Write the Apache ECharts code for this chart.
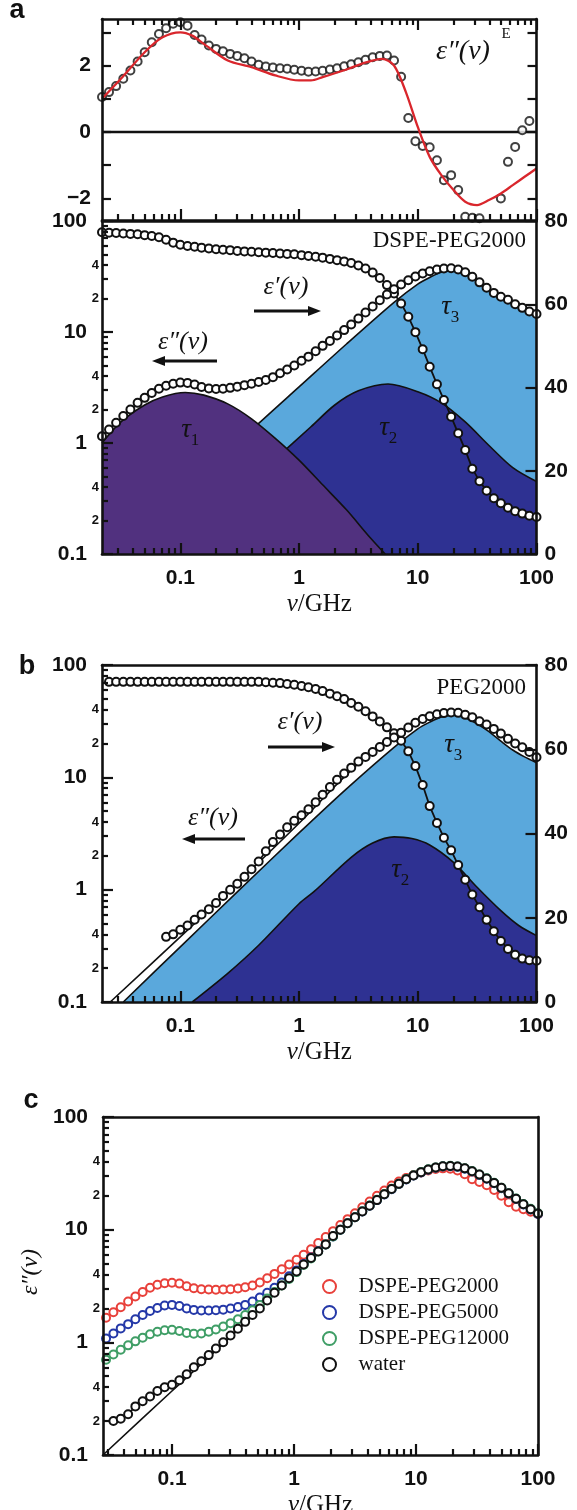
<!DOCTYPE html>
<html><head><meta charset="utf-8">
<script src="https://cdn.jsdelivr.net/npm/echarts@6/dist/echarts.min.js"></script>
<style>html,body{margin:0;padding:0;background:#fff}#c{width:577px;height:1510px}</style>
</head><body><div id="c"></div>
<script>
// ---------- data (frequencies in GHz, permittivity values) ----------
const freq = [0.0219,0.0251,0.0288,0.0331,0.0380,0.0437,0.0501,0.0575,0.0661,0.0759,0.0871,0.100,0.115,0.132,0.151,0.174,0.200,0.229,0.263,0.302,0.347,0.398,0.457,0.525,0.603,0.692,0.794,0.912,1.05,1.20,1.38,1.58,1.82,2.09,2.40,2.75,3.16,3.63,4.17,4.79,5.50,6.31,7.24,8.32,9.55,11.0,12.6,14.5,16.6,19.1,21.9,25.1,28.8,33.1,38.0,43.7,50.1,57.5,66.1,75.9,87.1,100];

// panel a, top: excess loss eps''(nu)^E
const resid = [1.05,1.20,1.38,1.60,1.85,2.12,2.40,2.70,2.95,3.12,3.26,3.30,3.20,2.92,2.78,2.60,2.50,2.43,2.35,2.29,2.22,2.12,2.02,1.97,1.94,1.92,1.90,1.87,1.84,1.81,1.82,1.84,1.88,1.92,1.98,2.04,2.10,2.17,2.25,2.29,2.30,2.15,1.66,0.42,-0.28,-0.42,-0.46,-0.85,-1.45,-1.30,-1.75,-2.55,-2.58,-2.60,null,null,-2.00,-0.90,-0.45,0.05,0.33,null];
const resFitNu = [0.0219,0.0316,0.0501,0.0708,0.100,0.126,0.158,0.251,0.398,0.631,1.00,1.26,1.58,2.51,3.55,5.01,6.31,7.94,10.0,12.6,15.8,20.0,25.1,31.6,39.8,50.1,63.1,79.4,100];
const resFit = [1.0,1.6,2.4,2.85,3.0,2.9,2.65,2.15,1.95,1.7,1.55,1.55,1.65,1.88,2.08,2.2,2.0,1.2,0.15,-0.75,-1.3,-1.75,-2.1,-2.2,-2.05,-1.85,-1.6,-1.35,-1.1];

// panel a, bottom: DSPE-PEG2000
const epsLossA = [1.15,1.32,1.52,1.75,2.0,2.3,2.55,2.82,3.08,3.28,3.42,3.5,3.48,3.36,3.2,3.1,3.06,3.08,3.14,3.22,3.32,3.42,3.55,3.7,3.92,4.25,4.6,5.0,5.5,6.0,6.7,7.5,8.3,9.3,10.4,11.7,13.2,15.0,17.0,19.3,21.8,24.3,26.8,29.3,31.6,33.6,35.3,36.5,37.3,37.5,36.5,34.5,31.5,28.0,25.0,22.5,20.8,19.5,17.8,16.5,15.3,14.5];
const epsRealA = [77.3,77.2,77.1,77.0,76.9,76.8,76.6,76.4,76.1,75.5,74.8,74.3,74.0,73.8,73.6,73.4,73.2,73.1,73.0,72.8,72.7,72.6,72.5,72.4,72.3,72.2,72.1,72.0,71.8,71.6,71.4,71.2,70.9,70.6,70.3,69.9,69.3,68.6,67.6,66.3,64.6,62.6,60.2,57.0,53.3,49.2,45.0,40.8,37.0,33.0,29.0,25.0,20.5,17.5,15.2,13.4,12.2,11.1,10.3,9.7,9.2,8.9];
const tau1NuA = [0.0219,0.0316,0.0501,0.0708,0.110,0.158,0.251,0.398,0.631,1.00,1.58,2.51,3.98,6.31];
const tau1A = [1.0,1.55,2.2,2.6,2.85,2.7,2.25,1.65,1.1,0.7,0.42,0.25,0.14,0.082];
const tau2NuA = [0.100,0.251,0.631,1.26,2.00,3.16,5.62,10.0,15.8,25.1,39.8,63.1,100];
const tau2A = [0.12,0.3,0.72,1.4,2.2,2.95,3.4,2.9,2.3,1.55,0.95,0.6,0.45];
const tau3NuA = [0.100,0.457,1.00,2.51,6.31,10.0,12.6,15.8,20.0,25.1,31.6,39.8,50.1,63.1,79.4,100];
const tau3A = [0.33,1.5,3.2,7.8,18.5,27,31,34.5,35.5,33.5,29,24,20.5,18,16.2,15.2];

// panel b: PEG2000
const epsLossB = [null,null,null,null,null,null,null,null,null,0.38,0.40,0.44,0.48,0.54,0.60,0.67,0.76,0.88,1.00,1.13,1.30,1.52,1.78,2.20,2.65,3.10,3.60,4.10,4.60,5.20,6.00,7.00,8.20,9.50,10.8,12.2,13.8,15.2,16.8,18.6,20.6,22.6,25.0,27.8,30.6,33.0,35.0,36.4,37.3,37.8,37.5,36.0,34.2,31.5,29.5,27.0,24.5,22.0,20.0,18.5,16.8,15.1];
const epsRealB = [null,76.0,76.0,76.0,76.0,76.0,76.0,76.0,76.0,76.0,76.0,76.0,76.0,76.0,76.0,76.0,76.0,76.0,76.0,76.0,76.0,76.0,76.0,75.9,75.8,75.7,75.5,75.3,75.0,74.7,74.3,73.8,73.2,72.6,71.9,71.0,70.1,69.0,67.8,66.6,65.2,63.8,62.0,59.5,56.0,51.5,46.5,42.5,39.0,36.0,32.5,29.0,25.5,22.5,19.5,16.8,14.5,12.6,11.2,10.3,9.9,9.8];
const fitNuB = [0.0257,0.100,0.316,1.00,2.00,3.16];
const fitB = [0.1,0.38,1.2,3.9,8.3,13.3];
const tau2NuB = [0.126,0.251,0.457,1.00,1.35,2.75,4.17,6.31,8.91,12.6,20.0,31.6,50.1,70.8,100];
const tau2B = [0.1,0.18,0.32,0.75,0.97,1.94,2.6,2.95,2.85,2.5,1.75,1.05,0.65,0.48,0.39];
const tau3NuB = [0.0331,0.100,0.316,1.00,2.51,6.31,10.0,12.6,15.8,20.0,25.1,31.6,39.8,50.1,63.1,79.4,100];
const tau3B = [0.1,0.31,1.0,3.2,7.9,18.5,27,31,34.5,35.8,34,30,25.5,21,17.5,15.2,13.5];

// panel c: eps''(nu) of the four samples
const namesC = ['DSPE-PEG2000','DSPE-PEG5000','DSPE-PEG12000','water'];
const lossPEG2000 = [null,null,1.65,1.85,2.05,2.30,2.55,2.80,3.05,3.25,3.35,3.38,3.32,3.15,3.02,2.96,2.94,2.93,2.94,2.96,3.00,3.08,3.20,3.40,3.70,4.05,4.45,4.90,5.40,6.00,6.70,7.60,8.60,9.70,11.0,12.4,14.0,15.8,17.8,20.0,22.3,24.6,26.8,28.8,30.6,32.2,33.5,34.5,35.0,34.8,33.5,31.0,28.0,26.5,24.8,22.5,20.0,17.5,16.0,15.2,14.4,13.8];
const lossPEG5000 = [null,null,1.08,1.20,1.33,1.45,1.60,1.75,1.90,2.02,2.12,2.15,2.10,2.00,1.94,1.92,1.92,1.93,1.95,2.00,2.06,2.15,2.30,2.50,2.75,3.05,3.40,3.85,4.35,4.95,5.65,6.45,7.40,8.70,10.0,11.4,12.9,14.5,16.3,18.3,20.5,22.9,25.4,27.9,30.2,32.2,34.0,35.4,36.3,36.6,36.1,34.8,32.8,30.6,28.3,25.8,23.3,20.9,18.7,16.7,15.1,13.8];
const lossPEG12000 = [null,null,0.70,0.78,0.86,0.94,1.02,1.10,1.18,1.24,1.28,1.29,1.26,1.21,1.19,1.20,1.24,1.30,1.38,1.48,1.60,1.75,1.93,2.15,2.45,2.80,3.20,3.65,4.20,4.85,5.55,6.40,7.40,8.70,10.0,11.4,12.9,14.6,16.4,18.4,20.7,23.1,25.6,28.1,30.4,32.5,34.3,35.7,36.6,36.9,36.4,35.1,33.1,30.9,28.6,26.1,23.6,21.1,18.9,16.9,15.3,14.0];
const lossWater = [null,null,null,0.20,0.21,0.23,0.27,0.30,0.33,0.37,0.40,0.42,0.46,0.52,0.60,0.68,0.77,0.88,1.00,1.15,1.32,1.52,1.75,2.00,2.35,2.75,3.20,3.70,4.25,4.90,5.60,6.40,7.40,8.80,10.0,11.4,12.9,14.5,16.3,18.3,20.6,23.0,25.5,28.0,30.3,32.4,34.2,35.6,36.5,36.8,36.3,35.0,33.0,30.8,28.5,26.0,23.5,21.0,18.8,16.8,15.2,13.9];
const waterFitNu = [0.0272,0.100,0.316,1.00,1.58];
const waterFit = [0.1,0.37,1.17,3.9,6.1];

// ---------- axis ranges and tick values ----------
const nuMinAB = 0.0219, nuMinC = 0.0272, nuMax = 100;
const epsMin = 0.1, epsMax = 100;
const resMin = -2.65, resMax = 3.4;
const decades = [0.1, 1, 10, 100];
const nuMinor = [0.03,0.04,0.05,0.06,0.07,0.08,0.09,0.2,0.3,0.4,0.5,0.6,0.7,0.8,0.9,2,3,4,5,6,7,8,9,20,30,40,50,60,70,80,90];
const epsMinor = [0.2,0.3,0.4,0.5,0.6,0.7,0.8,0.9,2,3,4,5,6,7,8,9,20,30,40,50,60,70,80,90];
const epsMinorLabels = [0.2,0.4,2,4,20,40];
const resTicks = [-2,-1,0,1,2,3];
const resLabels = [-2,0,2];
const epsRealTicks = [0,20,40,60,80];

// ---------- helpers ----------
const SANS = "'Liberation Sans', Arial, Helvetica, sans-serif";
const SERIF = "'Liberation Serif', 'Times New Roman', serif";
const INK = '#111111';
const C1 = '#51317f', C2 = '#2e3192', C3 = '#5aa8dc';
const L = v => Math.log10(v);
const ll = (xs, ys) => xs.map((x, i) => [L(x), ys[i] == null ? null : L(ys[i])]).filter(p => p[1] !== null);
const lin = (xs, ys) => xs.map((x, i) => [L(x), ys[i]]).filter(p => p[1] !== null && p[1] !== undefined);
const fmtLog = v => { const n = Math.pow(10, v); return n < 1 ? n.toFixed(1) : String(Math.round(n)); };
const fmtMinor = v => String(Math.round(Math.pow(10, v - Math.floor(v + 1e-9))));

function mk(o) {
  const a = {
    type: 'value', gridIndex: o.g, position: o.pos, min: o.min, max: o.max, z: 9,
    axisLine: { show: !!o.line, onZero: false, lineStyle: { color: INK, width: 2.6 } },
    axisTick: o.ticks ? { show: true, inside: true, length: o.len, customValues: o.ticks, lineStyle: { color: INK, width: 2.2 } } : { show: false },
    axisLabel: o.labels ? { show: true, customValues: o.labels, formatter: o.fmt, margin: o.margin, color: INK, fontFamily: SANS, fontWeight: 'bold', fontSize: o.size } : { show: false },
    splitLine: { show: false }, splitArea: { show: false }, minorTick: { show: false }, minorSplitLine: { show: false }
  };
  if (o.extra) Object.assign(a, o.extra);
  return a;
}
const nuName = {
  name: '{i|ν}/GHz', nameLocation: 'middle', nameGap: 38,
  nameTextStyle: { fontFamily: SERIF, fontSize: 25, color: INK, rich: { i: { fontFamily: SERIF, fontStyle: 'italic', fontSize: 25, color: INK } } }
};
function xLog(g, nuMin, withLabels, topTicks) {
  const mn = L(nuMin), mx = L(nuMax);
  const list = [
    mk({ g, pos: 'bottom', min: mn, max: mx, line: true, ticks: decades.map(L), len: 11,
         labels: withLabels ? decades.map(L) : null, fmt: fmtLog, margin: 14, size: 21, extra: withLabels ? nuName : null }),
    mk({ g, pos: 'bottom', min: mn, max: mx, ticks: nuMinor.map(L), len: 6 }),
    mk({ g, pos: 'top', min: mn, max: mx, line: true, ticks: topTicks ? decades.map(L) : null, len: 11 })
  ];
  if (topTicks) list.push(mk({ g, pos: 'top', min: mn, max: mx, ticks: nuMinor.map(L), len: 6 }));
  return list;
}
const yLog = g => [
  mk({ g, pos: 'left', min: L(epsMin), max: L(epsMax), line: true, ticks: decades.map(L), len: 11, labels: decades.map(L), fmt: fmtLog, margin: 15, size: 21 }),
  mk({ g, pos: 'left', min: L(epsMin), max: L(epsMax), ticks: epsMinor.map(L), len: 6, labels: epsMinorLabels.map(L), fmt: fmtMinor, margin: 3, size: 13 })
];
const yReal = g => mk({ g, pos: 'right', min: 0, max: 80, line: true, ticks: epsRealTicks, len: 11, labels: epsRealTicks, fmt: v => String(v), margin: 8, size: 21 });

// x axes: 0-3 residual, 4-6 a, 7-9 b, 10-12 c
const xAxis = [].concat(xLog(0, nuMinAB, false, true), xLog(1, nuMinAB, true, false), xLog(2, nuMinAB, true, false), xLog(3, nuMinC, true, false));
// y axes: 0-1 residual, 2-4 a (log, minor, eps'), 5-7 b, 8-10 c
const yAxis = [
  mk({ g: 0, pos: 'left', min: resMin, max: resMax, line: true, ticks: resTicks, len: 9, labels: resLabels, fmt: v => v < 0 ? '\u2212' + (-v) : String(v), margin: 11, size: 21 }),
  mk({ g: 0, pos: 'right', min: resMin, max: resMax, line: true, ticks: resTicks, len: 9 })
].concat(yLog(1), [yReal(1)], yLog(2), [yReal(2)], yLog(3), [mk({ g: 3, pos: 'right', min: L(epsMin), max: L(epsMax), line: true })]);

// ---------- series ----------
const series = [];
const area = (xi, yi, data, color, z) => ({ type: 'line', xAxisIndex: xi, yAxisIndex: yi, data, smooth: 0.3, symbol: 'none', silent: true, z,
  lineStyle: { color: INK, width: 1.6 }, areaStyle: { color, opacity: 1, origin: 'start' } });
const dots = (xi, yi, data, color, lineColor, z) => ({ type: 'line', xAxisIndex: xi, yAxisIndex: yi, data, symbol: 'emptyCircle', symbolSize: 8, showSymbol: true, silent: true, z,
  lineStyle: { color: lineColor || color, width: 1.8 }, itemStyle: { color, borderColor: color, borderWidth: 1.7 } });
const fitLine = (xi, yi, data, color, w, z) => ({ type: 'line', xAxisIndex: xi, yAxisIndex: yi, data, symbol: 'none', smooth: 0.3, silent: true, z, lineStyle: { color, width: w } });

// residual panel
series.push({ type: 'scatter', xAxisIndex: 0, yAxisIndex: 0, data: lin(freq, resid), symbol: 'emptyCircle', symbolSize: 8, silent: true, z: 6,
  itemStyle: { color: INK, borderColor: INK, borderWidth: 1.7 },
  markLine: { silent: true, symbol: ['none', 'none'], label: { show: false }, lineStyle: { color: INK, width: 2.4, type: 'solid' }, data: [{ yAxis: 0 }] } });
series.push(fitLine(0, 0, lin(resFitNu, resFit), '#d9262c', 2.3, 7));
// panel a
series.push(area(4, 2, ll(tau3NuA, tau3A), C3, 2));
series.push(area(4, 2, ll(tau2NuA, tau2A), C2, 3));
series.push(area(4, 2, ll(tau1NuA, tau1A), C1, 4));
series.push(dots(4, 4, lin(freq, epsRealA), INK, INK, 6));
series.push(dots(4, 2, ll(freq, epsLossA), INK, INK, 6));
// panel b
series.push(area(7, 5, ll(tau3NuB, tau3B), C3, 2));
series.push(area(7, 5, ll(tau2NuB, tau2B), C2, 3));
series.push(fitLine(7, 5, ll(fitNuB, fitB), INK, 1.6, 5));
series.push(dots(7, 7, lin(freq, epsRealB), INK, INK, 6));
series.push(dots(7, 5, ll(freq, epsLossB), INK, INK, 6));
// panel c
const colC = ['#e8403a', '#2438a8', '#3f9e66', '#111111'];
const lineC = ['#d42f2f', '#2233aa', '#2e8b57', '#111111'];
const valsC = [lossPEG2000, lossPEG5000, lossPEG12000, lossWater];
series.push(fitLine(10, 8, ll(waterFitNu, waterFit), INK, 1.6, 5));
namesC.forEach((n, i) => { const s = dots(10, 8, ll(freq, valsC[i]), colC[i], lineC[i], 6); s.name = n; series.push(s); });

// ---------- annotations ----------
const graphic = [];
function txt(x, y, text, style, rot) {
  graphic.push({ type: 'text', x, y, z: 100, silent: true, rotation: rot || 0,
    style: Object.assign({ text, fill: INK, fontFamily: SERIF, fontSize: 24, align: 'center', verticalAlign: 'middle' }, style || {}) });
}
function arrow(x1, x2, y) {
  const d = Math.sign(x2 - x1);
  graphic.push({ type: 'line', z: 100, silent: true, shape: { x1, y1: y, x2: x2 - d * 8, y2: y }, style: { stroke: INK, lineWidth: 3 } });
  graphic.push({ type: 'polygon', z: 100, silent: true, shape: { points: [[x2, y], [x2 - d * 13, y - 5], [x2 - d * 13, y + 5]] }, style: { fill: INK } });
}
function tau(x, y, sub) {
  txt(x, y, 'τ', { fontStyle: 'italic', fontSize: 27 });
  txt(x + 9, y + 11, sub, { fontSize: 17 });
}
const panelFont = { fontFamily: SANS, fontWeight: 'bold', fontSize: 27 };
txt(17, 11, 'a', panelFont);
txt(27, 667, 'b', panelFont);
txt(31, 1101, 'c', panelFont);
// residual label
txt(463, 52, 'ε″(ν)', { fontStyle: 'italic', fontSize: 28 });
txt(506, 34, 'E', { fontSize: 15 });
// panel a
txt(526, 241, 'DSPE-PEG2000', { align: 'right', fontSize: 23 });
txt(286, 287, 'ε′(ν)', { fontStyle: 'italic', fontSize: 26 });
arrow(254, 321, 311);
txt(183, 342, 'ε″(ν)', { fontStyle: 'italic', fontSize: 26 });
arrow(217, 152, 361);
tau(186, 430, '1');
tau(384, 428, '2');
tau(446, 307, '3');
// panel b
txt(526, 688, 'PEG2000', { align: 'right', fontSize: 23 });
txt(300, 722, 'ε′(ν)', { fontStyle: 'italic', fontSize: 26 });
arrow(268, 335, 747);
txt(213, 818, 'ε″(ν)', { fontStyle: 'italic', fontSize: 26 });
arrow(245, 182, 839);
tau(449, 745, '3');
tau(396, 870, '2');
// panel c y-axis title
txt(31, 1272, 'ε″(ν)', { fontStyle: 'italic', fontSize: 24 }, Math.PI / 2);

const option = {
  animation: false,
  backgroundColor: '#ffffff',
  grid: [
    { left: 102, top: 19, width: 434.5, height: 201, outerBoundsMode: 'none' },
    { left: 102, top: 221, width: 434.5, height: 333, outerBoundsMode: 'none' },
    { left: 102, top: 665, width: 434.5, height: 337, outerBoundsMode: 'none' },
    { left: 103, top: 1117, width: 435, height: 338, outerBoundsMode: 'none' }
  ],
  xAxis, yAxis, series, graphic,
  legend: {
    orient: 'vertical', left: 322, top: 1276, padding: 0, itemGap: 5, itemWidth: 48, itemHeight: 13, selectedMode: false,
    textStyle: { fontFamily: SERIF, fontSize: 21, color: INK },
    data: namesC.map((n, i) => ({ name: n, icon: 'circle', itemStyle: { color: '#ffffff', borderColor: colC[i], borderWidth: 2 } }))
  }
};
const chart = echarts.init(document.getElementById('c'), null, { renderer: 'canvas', width: 577, height: 1510 });
chart.setOption(option);
</script></body></html>
